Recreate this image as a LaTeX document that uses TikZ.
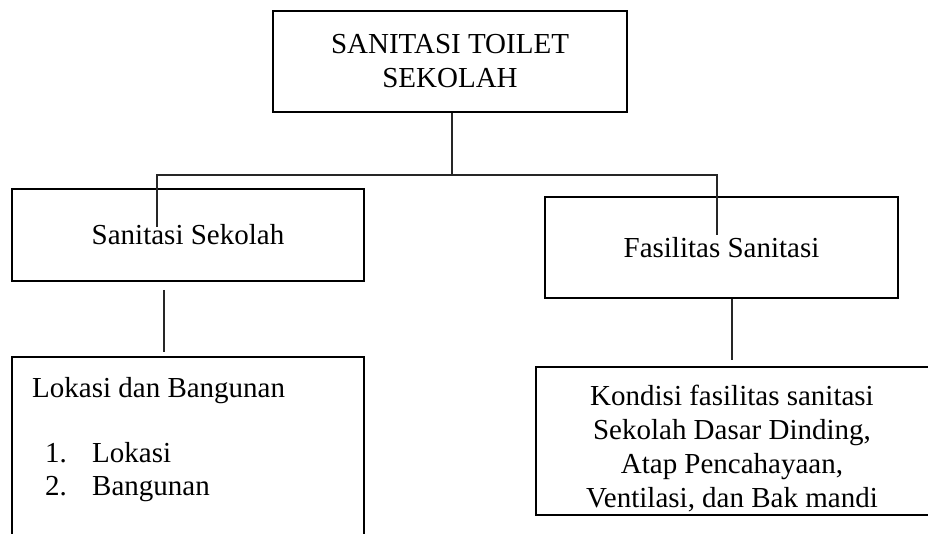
\documentclass[tikz,border=0pt]{standalone}
\usepackage{fontspec}
\setmainfont{Liberation Serif}
\begin{document}
\begin{tikzpicture}[x=1pt,y=-1pt,
  box/.style={draw=black, line width=2.8pt, inner sep=0pt},
  conn/.style={draw=black!85, line width=1.3pt},
  txt/.style={font=\fontsize{29}{34}\selectfont, inner sep=0pt}]
\useasboundingbox (0,0) rectangle (928,534);
% boxes
\node[box, txt, align=center, minimum width=354pt, minimum height=101pt] (top) at (450,61.5) {SANITASI TOILET\\SEKOLAH};
\node[box, txt, minimum width=352pt, minimum height=92pt] (sek) at (188,235) {Sanitasi Sekolah};
\node[box, txt, minimum width=353pt, minimum height=101pt] (fas) at (721.5,247.5) {Fasilitas Sanitasi};
\node[box, minimum width=352pt, minimum height=203pt] (lok) at (188,458.5) {};
\node[box, minimum width=394pt, minimum height=148pt] (kon) at (733,441) {};
% texts of lower boxes
\node[txt, anchor=base west] (lokt) at (32,397) {Lokasi dan Bangunan};
\node[txt, anchor=base west] (n1) at (45,462) {1.};
\node[txt, anchor=base west] (i1) at (92,462) {Lokasi};
\node[txt, anchor=base west] (n2) at (45,495) {2.};
\node[txt, anchor=base west] (i2) at (92,495) {Bangunan};
\node[txt, align=center] (kont) at (732,449) {Kondisi fasilitas sanitasi\\Sekolah Dasar Dinding,\\Atap Pencahayaan,\\Ventilasi, dan Bak mandi};
% connectors
\coordinate (j) at (452,175);
\coordinate (hl) at (157,175);
\coordinate (hr) at (717,175);
\coordinate (sekin) at (157,227);
\coordinate (fasin) at (717,235);
\coordinate (l1) at (164,290);
\coordinate (l2) at (164,352);
\coordinate (r2) at (732,360);
\draw[conn] (top.south -| j) -- (j);
\draw[conn] (sekin) -- (hl) -- (hr) -- (fasin);
\draw[conn] (l1) -- (l2);
\draw[conn] (fas.south -| r2) -- (r2);
\end{tikzpicture}
\end{document}
